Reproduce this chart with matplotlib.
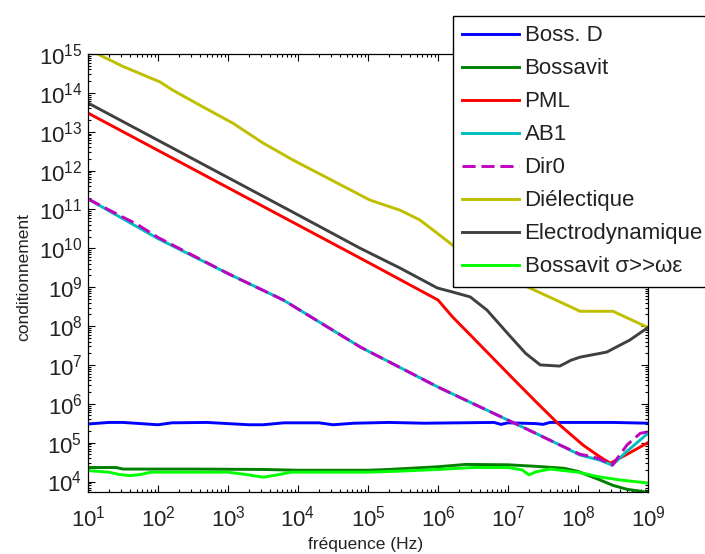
import numpy as np
import matplotlib
matplotlib.use("Agg")
import matplotlib.pyplot as plt
from matplotlib.ticker import LogLocator, FixedLocator, LogFormatterSciNotation, NullFormatter

plt.rcParams['font.family'] = ['Liberation Sans', 'DejaVu Sans']
plt.rcParams['mathtext.default'] = 'regular'

# ---- tick decades ----
x_decades = [1, 2, 3, 4, 5, 6, 7, 8, 9]
y_decades = [4, 5, 6, 7, 8, 9, 10, 11, 12, 13, 14, 15]

# ---- data (log10 frequency, log10 condition number) ----
bossd_f = [1.0, 1.3, 1.5, 2.0, 2.2, 2.7, 3.3, 3.5, 3.8, 4.3, 4.5, 4.8, 5.3, 5.8, 6.3, 6.8, 6.9, 7.0, 7.4, 7.5, 7.6, 8.0, 8.5, 9.0]
bossd_v = [5.48, 5.52, 5.52, 5.46, 5.51, 5.52, 5.46, 5.46, 5.51, 5.51, 5.46, 5.50, 5.52, 5.50, 5.51, 5.52, 5.47, 5.51, 5.49, 5.47, 5.52, 5.52, 5.52, 5.50]

boss_f = [1.0, 1.4, 1.5, 2.5, 3.5, 4.0, 5.0, 5.3, 5.8, 6.0, 6.4, 7.0, 7.4, 7.8, 8.0, 8.3, 8.5, 8.7, 9.0]
boss_v = [4.36, 4.36, 4.32, 4.32, 4.31, 4.29, 4.29, 4.31, 4.36, 4.38, 4.44, 4.43, 4.39, 4.34, 4.26, 4.05, 3.90, 3.80, 3.72]

pml_f = [1.0, 2.0, 3.0, 4.0, 5.0, 6.0, 6.21, 6.5, 7.07, 7.4, 7.71, 8.07, 8.3, 8.46, 8.7, 9.0]
pml_v = [13.48, 12.52, 11.56, 10.60, 9.64, 8.67, 8.23, 7.70, 6.65, 6.05, 5.50, 4.94, 4.65, 4.47, 4.70, 5.00]

ab1_f = [1.0, 2.0, 3.0, 3.79, 4.89, 6.0, 7.0, 7.36, 7.74, 8.03, 8.31, 8.49, 8.7, 9.0]
ab1_v = [11.27, 10.25, 9.35, 8.67, 7.46, 6.43, 5.58, 5.27, 4.94, 4.68, 4.55, 4.42, 4.78, 5.24]

dir0_f = [1.0, 1.5, 1.7, 2.0, 3.0, 3.79, 4.89, 6.0, 7.0, 7.36, 7.74, 8.03, 8.2, 8.31, 8.49, 8.7, 8.89, 9.0]
dir0_v = [11.27, 10.80, 10.62, 10.28, 9.35, 8.67, 7.46, 6.43, 5.58, 5.27, 4.94, 4.70, 4.64, 4.58, 4.42, 4.94, 5.24, 5.28]

diel_f = [1.0, 1.5, 2.03, 2.21, 2.6, 3.07, 3.5, 3.93, 4.4, 4.89, 5.03, 5.46, 5.74, 5.93, 6.21, 6.7, 7.31, 7.84, 8.03, 8.5, 8.99]
diel_v = [15.12, 14.68, 14.28, 14.07, 13.68, 13.22, 12.71, 12.27, 11.83, 11.37, 11.24, 10.98, 10.73, 10.47, 10.08, 9.55, 8.98, 8.54, 8.38, 8.38, 7.97]

elec_f = [1.0, 2.0, 3.0, 4.0, 4.89, 5.46, 5.99, 6.2, 6.46, 6.7, 6.99, 7.25, 7.46, 7.74, 7.9, 8.03, 8.41, 8.74, 8.99]
elec_v = [13.74, 12.78, 11.82, 10.86, 10.00, 9.49, 8.98, 8.88, 8.75, 8.41, 7.82, 7.30, 7.00, 6.97, 7.12, 7.20, 7.33, 7.64, 7.95]

bsig_f = [1.0, 1.3, 1.45, 1.6, 1.75, 1.9, 3.0, 3.3, 3.5, 3.7, 3.9, 5.0, 5.5, 6.0, 6.5, 7.0, 7.2, 7.3, 7.4, 7.6, 8.0, 8.3, 8.6, 9.0]
bsig_v = [4.28, 4.24, 4.18, 4.15, 4.18, 4.24, 4.24, 4.17, 4.11, 4.17, 4.24, 4.24, 4.27, 4.31, 4.36, 4.36, 4.30, 4.17, 4.25, 4.32, 4.24, 4.12, 4.04, 3.96]

labels = ['Boss. D', 'Bossavit', 'PML', 'AB1', 'Dir0', 'Diélectique', 'Electrodynamique', 'Bossavit σ>>ωε']
colors = ['#0000ff', '#007f00', '#ff0000', '#00bfbf', '#bf00bf', '#bfbf00', '#404040', '#00ff00']

series = [(bossd_f, bossd_v), (boss_f, boss_v), (pml_f, pml_v), (ab1_f, ab1_v),
          (dir0_f, dir0_v), (diel_f, diel_v), (elec_f, elec_v), (bsig_f, bsig_v)]

W, H = 705, 554
fig = plt.figure(figsize=(W / 100, H / 100), dpi=100)
ax = fig.add_axes([88 / W, 1 - 492 / H, (648 - 88) / W, (492 - 54) / H])

for (f, v), lab, col in zip(series, labels, colors):
    x = 10 ** np.array(f)
    y = 10 ** np.array(v)
    if lab == 'Dir0':
        ax.plot(x, y, color=col, lw=2.1, linestyle=(0, (4.5, 2)), label=lab)
    else:
        ax.plot(x, y, color=col, lw=2.1, label=lab)

ax.set_xscale('log')
ax.set_yscale('log')
ax.set_xlim(10, 1e9)
ax.set_ylim(10 ** 3.73, 1e15)

ax.xaxis.set_major_locator(FixedLocator(10.0 ** np.array(x_decades)))
ax.yaxis.set_major_locator(FixedLocator(10.0 ** np.array(y_decades)))
for axis in (ax.xaxis, ax.yaxis):
    axis.set_minor_locator(LogLocator(base=10, subs=np.arange(2, 10), numticks=300))
    axis.set_major_formatter(LogFormatterSciNotation())
    axis.set_minor_formatter(NullFormatter())

ax.tick_params(which='both', direction='in', top=True, right=True, colors='black',
               labelcolor='#222222', width=0.8)
ax.tick_params(which='major', length=5, labelsize=16)
ax.tick_params(which='minor', length=2.5, labelleft=False, labelbottom=False)
ax.tick_params(axis='x', pad=10)
ax.tick_params(axis='y', pad=4)
for s in ax.spines.values():
    s.set_linewidth(0.9)
    s.set_color('black')

fig.text(24 / W, 1 - 277 / H, 'conditionnement', rotation=90, ha='center', va='center',
         fontsize=12.5, color='#222222')
fig.text(366 / W, 1 - 545 / H, 'fréquence (Hz)', ha='center', va='center',
         fontsize=12.5, color='#222222')

leg = ax.legend(loc='upper left', bbox_to_anchor=(453 / W, 1 - 16 / H),
                bbox_transform=fig.transFigure, borderaxespad=0, fontsize=16,
                handlelength=2.55, handletextpad=0.25, labelspacing=0.54, borderpad=0.42,
                fancybox=False, framealpha=1, edgecolor='black')
leg.get_frame().set_linewidth(1.0)
for t in leg.get_texts():
    t.set_color('#222222')

fig.savefig('out.png', dpi=100)
